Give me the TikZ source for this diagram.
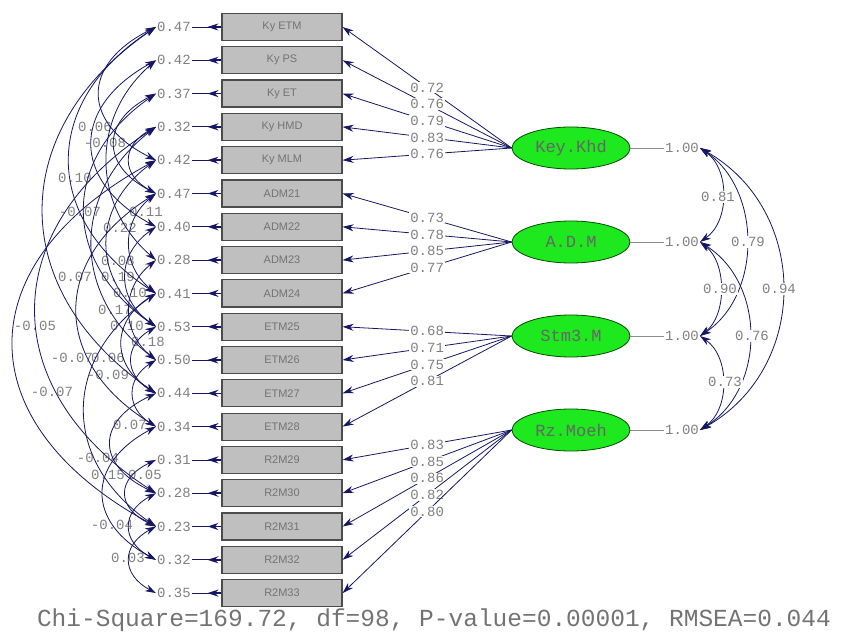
\documentclass[tikz,border=0pt]{standalone}
\usepackage{fontspec}
\setmainfont{Liberation Serif}
\newfontfamily\lismono{Liberation Mono}
\newfontfamily\lissans{Liberation Sans}
\usetikzlibrary{arrows.meta,shapes.geometric,calc}
\definecolor{lisnavy}{RGB}{22,22,100}
\definecolor{lisgreen}{RGB}{30,232,30}
\newcommand\lisarc[3]{\draw[cov] (e#1.west) .. controls +(-#3,{0.28*33.3*(#2-#1)}) and +(-#3,{-0.28*33.3*(#2-#1)}) .. (e#2.west);}
\newcommand\risarc[3]{\draw[cov] (t#1.east) .. controls +(#3,{0.22*94*(#2-#1)}) and +(#3,{-0.22*94*(#2-#1)}) .. (t#2.east);}
\begin{document}
\begin{tikzpicture}[x=1pt,y=-1pt,
  obs/.style={draw=black!70, line width=1.2pt, fill=black!25, minimum width=120pt, minimum height=27pt, inner sep=0pt, font=\lissans\fontsize{11}{11}\selectfont, text=black!55},
  lat/.style={ellipse, draw=black!70!green, line width=0.8pt, fill=lisgreen, minimum width=118pt, minimum height=42pt, inner sep=0pt, font=\lismono\fontsize{17}{17}\selectfont, text=black!60},
  num/.style={font=\lismono\fontsize{14}{14}\selectfont, text=black!50, inner sep=1pt},
  lnum/.style={num, fill=white},
  arr/.style={draw=lisnavy, line width=0.8pt, -{Stealth[length=11pt,width=7pt]}},
  cov/.style={draw=lisnavy, line width=0.8pt, {Stealth[length=11pt,width=7pt]}-{Stealth[length=11pt,width=7pt]}},
  lnk/.style={draw=black!45, line width=0.5pt}]
\useasboundingbox (0,0) rectangle (843,636);
% observed boxes
\foreach \i/\t in {1/Ky ETM,2/Ky PS,3/Ky ET,4/Ky HMD,5/Ky MLM,6/ADM21,7/ADM22,8/ADM23,9/ADM24,10/ETM25,11/ETM26,12/ETM27,13/ETM28,14/R2M29,15/R2M30,16/R2M31,17/R2M32,18/R2M33}
  \node[obs] (b\i) at (282,{27+33.3*(\i-1)}) {\t};
% error variances
\foreach \i/\v in {1/0.47,2/0.42,3/0.37,4/0.32,5/0.42,6/0.47,7/0.40,8/0.28,9/0.41,10/0.53,11/0.50,12/0.44,13/0.34,14/0.31,15/0.28,16/0.23,17/0.32,18/0.35}{
  \node[num] (e\i) at (174,{27+33.3*(\i-1)}) {\v};
  \draw[lisnavy, line width=0.8pt] (b\i.west) -- (e\i.east);
  \draw[lisnavy, line width=1.6pt, -{Stealth[length=11pt,width=7pt]}] (b\i.west) -- ++(-14,0);
}
% latent variables
\node[lat] (k1) at (571,148) {Key.Khd};
\node[lat] (k2) at (571,242) {A.D.M};
\node[lat] (k3) at (571,336) {Stm3.M};
\node[lat] (k4) at (571,430) {Rz.Moeh};
% loadings
\foreach \i/\v in {1/0.72,2/0.76,3/0.79,4/0.83,5/0.76}
  \draw[arr] (k1.west) -- node[lnum,pos=0.5]{\v} (b\i.east);
\foreach \i/\v in {6/0.73,7/0.78,8/0.85,9/0.77}
  \draw[arr] (k2.west) -- node[lnum,pos=0.5]{\v} (b\i.east);
\foreach \i/\v in {10/0.68,11/0.71,12/0.75,13/0.81}
  \draw[arr] (k3.west) -- node[lnum,pos=0.5]{\v} (b\i.east);
\foreach \i/\v in {14/0.83,15/0.85,16/0.86,17/0.82,18/0.80}
  \draw[arr] (k4.west) -- node[lnum,pos=0.5]{\v} (b\i.east);
% latent variances
\foreach \i/\y in {1/148,2/242,3/336,4/430}{
  \node[num] (t\i) at (682,\y) {1.00};
  \draw[lnk] (k\i.east) -- (t\i.west);
}
% right covariance arcs
\risarc{1}{2}{30}
\risarc{2}{3}{27}
\risarc{3}{4}{30}
\risarc{1}{3}{62}
\risarc{2}{4}{66}
\risarc{1}{4}{110}
% right covariance labels
\node[lnum] (r12) at (718,197) {0.81};
\node[lnum] (r13) at (748,242) {0.79};
\node[lnum] (r14) at (779,289) {0.94};
\node[lnum] (r23) at (720,289) {0.90};
\node[lnum] (r24) at (752,336) {0.76};
\node[lnum] (r34) at (725,382) {0.73};
% error covariance labels
\node[num] (c1) at (95,127) {0.06};
\node[num] (c2) at (105,143) {-0.08};
\node[num] (c3) at (75,178) {0.10};
\node[num] (c4) at (80,212) {-0.07};
\node[num] (c5) at (146,212) {0.11};
\node[num] (c6) at (120,228) {0.22};
\node[num] (c7) at (118,261) {0.08};
\node[num] (c8) at (75,277) {0.07};
\node[num] (c9) at (118,277) {0.19};
\node[num] (c10) at (130,293) {0.10};
\node[num] (c11) at (115,310) {0.17};
\node[num] (c12) at (35,326) {-0.05};
\node[num] (c13) at (127,326) {0.10};
\node[num] (c14) at (148,342) {0.18};
\node[num] (c15) at (72,358) {-0.07};
\node[num] (c16) at (108,358) {0.06};
\node[num] (c17) at (108,375) {-0.09};
\node[num] (c18) at (52,392) {-0.07};
\node[num] (c19) at (130,425) {0.07};
\node[num] (c20) at (98,458) {-0.04};
\node[num] (c21) at (108,475) {0.15};
\node[num] (c22) at (145,475) {0.05};
\node[num] (c23) at (112,525) {-0.04};
\node[num] (c24) at (128,558) {0.03};
% error covariance arcs
\lisarc{1}{5}{75}
\lisarc{2}{7}{85}
\lisarc{1}{9}{115}
\lisarc{3}{6}{55}
\lisarc{4}{6}{35}
\lisarc{2}{8}{65}
\lisarc{3}{10}{95}
\lisarc{1}{12}{150}
\lisarc{5}{10}{65}
\lisarc{6}{9}{35}
\lisarc{4}{11}{85}
\lisarc{5}{16}{190}
\lisarc{7}{10}{40}
\lisarc{8}{11}{35}
\lisarc{6}{13}{105}
\lisarc{9}{12}{45}
\lisarc{10}{12}{32}
\lisarc{4}{15}{160}
\lisarc{11}{13}{30}
\lisarc{9}{16}{95}
\lisarc{12}{15}{60}
\lisarc{13}{17}{70}
\lisarc{14}{16}{40}
\lisarc{16}{18}{35}
\lisarc{15}{17}{35}
% fit statistics
\node[font=\lismono\fontsize{24.5}{24.5}\selectfont, text=black!55, inner sep=0pt] (chi) at (434,620) {Chi-Square=169.72, df=98, P-value=0.00001, RMSEA=0.044};
\end{tikzpicture}
\end{document}
